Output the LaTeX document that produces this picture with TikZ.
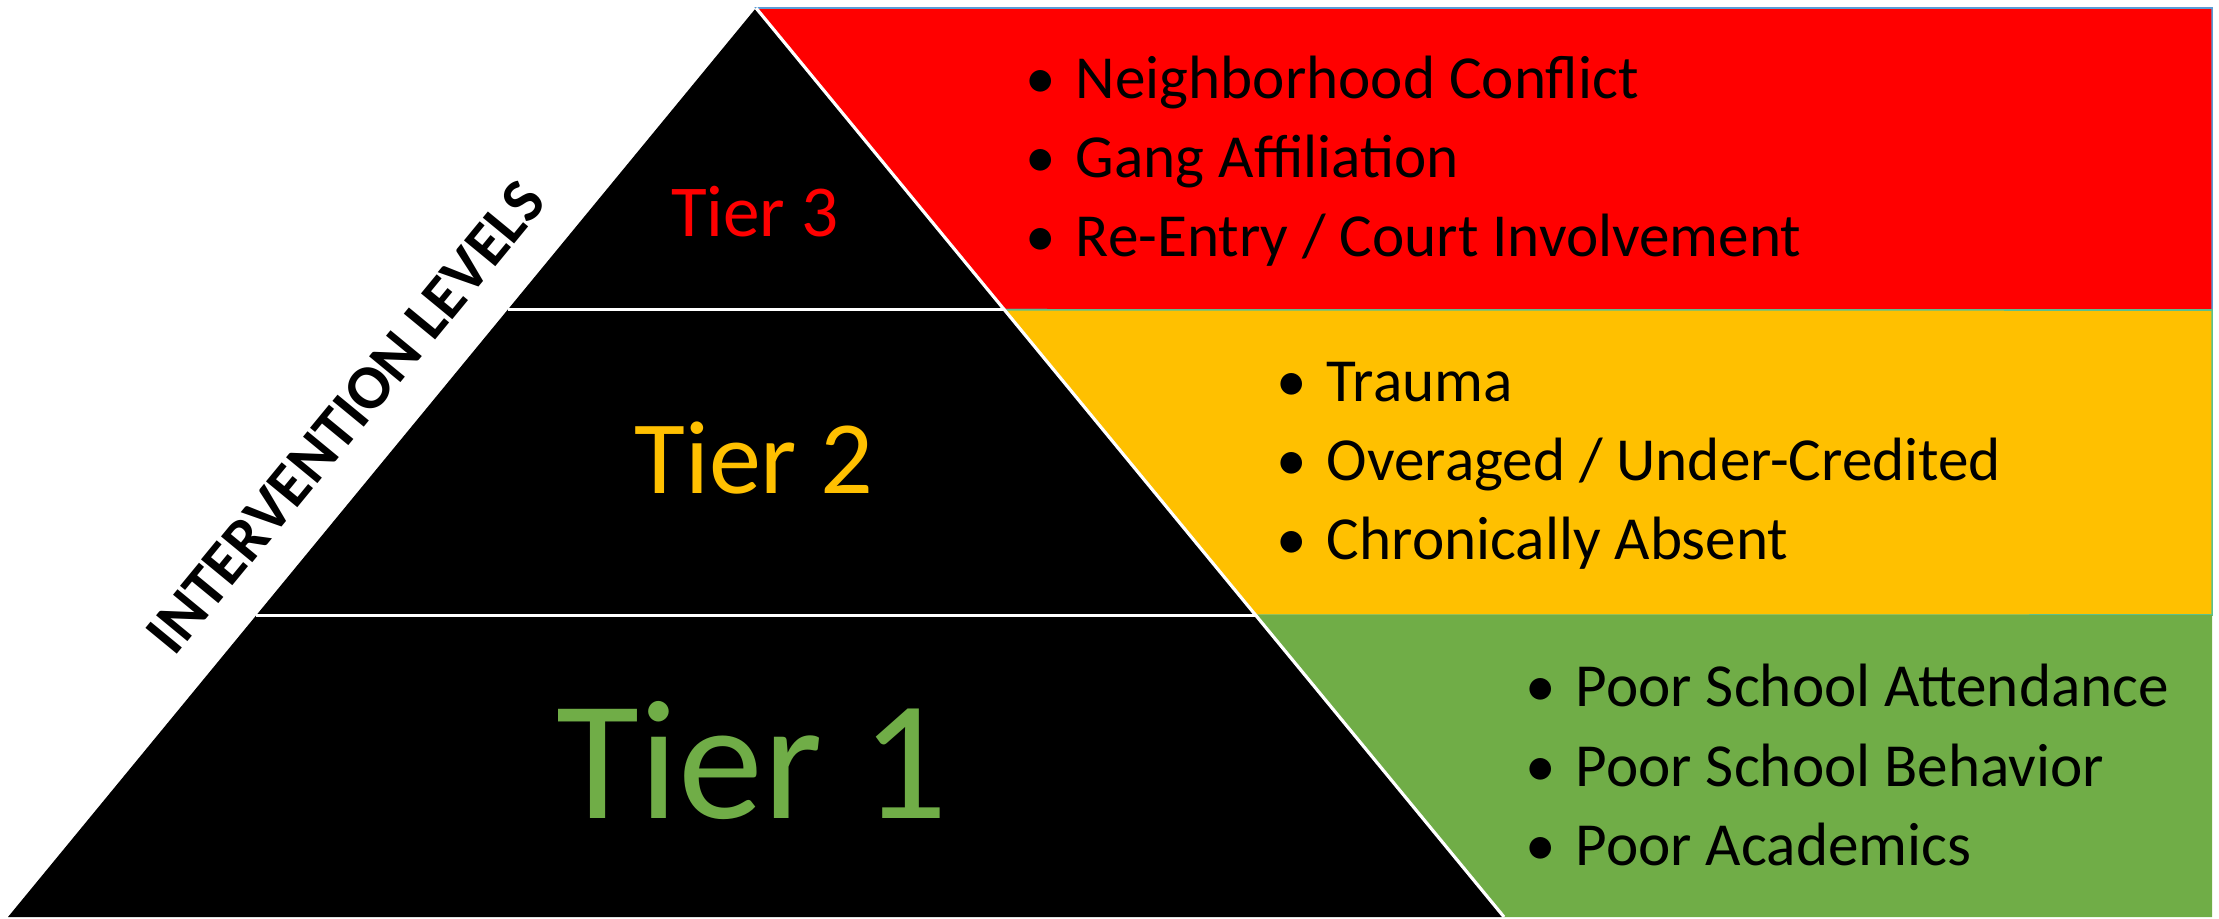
\documentclass[tikz,border=0pt]{standalone}
\usepackage{fontspec}
\setmainfont{Carlito}
\usetikzlibrary{calc}
\usetikzlibrary{positioning}

\definecolor{tierred}{HTML}{FF0000}
\definecolor{tieryellow}{HTML}{FFC000}
\definecolor{tiergreen}{HTML}{70AD47}
\definecolor{edgeblue}{HTML}{5B9BD5}
\definecolor{edgegreen}{HTML}{5CC08C}

\newcommand{\bul}{\makebox[0.82em][l]{\textbullet}}

\begin{document}
\begin{tikzpicture}[x=0.01cm, y=-0.01cm]

            % Define styles
            \tikzstyle{panel} = [line width=0.45pt]
            \tikzstyle{divider} = [draw=white, line width=0.75pt]
            \tikzstyle{tier} = [inner sep=0pt, text centered]
            \tikzstyle{bullets} = [inner sep=0pt, align=left, text=black, font=\fontsize{17.4}{22.5}\selectfont]

            \useasboundingbox (0,0) rectangle (2219,919);

            % Pyramid corners
            \coordinate (apex) at (756,8);
            \coordinate (baseL) at (8,917);
            \coordinate (baseR) at (1504,917);
            \coordinate (cut3L) at ($(apex)!0.332!(baseL)$);
            \coordinate (cut3R) at ($(apex)!0.332!(baseR)$);
            \coordinate (cut2L) at ($(apex)!0.668!(baseL)$);
            \coordinate (cut2R) at ($(apex)!0.668!(baseR)$);

            % Coloured panels
            \filldraw[panel, fill=tierred, draw=edgeblue] (apex) -- (2212,8) -- (2212,310) -- (cut3R) -- cycle;
            \filldraw[panel, fill=tieryellow, draw=edgegreen] (cut3R) -- (2212,310) -- (2212,615) -- (cut2R) -- cycle;
            \fill[tiergreen] (cut2R) -- (2212,615) -- (2212,917) -- (baseR) -- cycle;

            % Pyramid
            \fill[black] (apex) -- (baseR) -- (baseL) -- cycle;
            \draw[divider] (cut3L) -- (cut3R);
            \draw[divider] (cut2L) -- (cut2R);
            \draw[divider, line width=0.9pt] (apex) -- (baseR);

            % Tier labels
            \node[tier, text=tierred, font=\fontsize{20.8}{25}\selectfont] (tier3) at (755,212) {Tier 3};
            \node[tier, text=tieryellow, font=\fontsize{29.6}{35}\selectfont] (tier2) at (754,458) {Tier 2};
            \node[tier, text=tiergreen, font=\fontsize{48.4}{58}\selectfont] (tier1) at (752,761) {Tier 1};

            % Side label
            \path (baseL) -- (apex) node[pos=0.51, sloped, above=10pt, inner sep=0pt, font=\bfseries\fontsize{17.8}{22}\selectfont] (levels) {INTERVENTION LEVELS};

            % Risk factors
            \node[bullets, anchor=west] (redlist) at (1025,161) {\bul Neighborhood Conflict\\ \bul Gang Affiliation\\ \bul Re-Entry / Court Involvement};
            \node[bullets, anchor=west] (yellowlist) at (1276,466) {\bul Trauma\\ \bul Overaged / Under-Credited\\ \bul Chronically Absent};
            \node[bullets, anchor=west] (greenlist) at (1525,765) {\bul Poor School Attendance\\ \bul Poor School Behavior\\ \bul Poor Academics};

        \end{tikzpicture}
\end{document}
